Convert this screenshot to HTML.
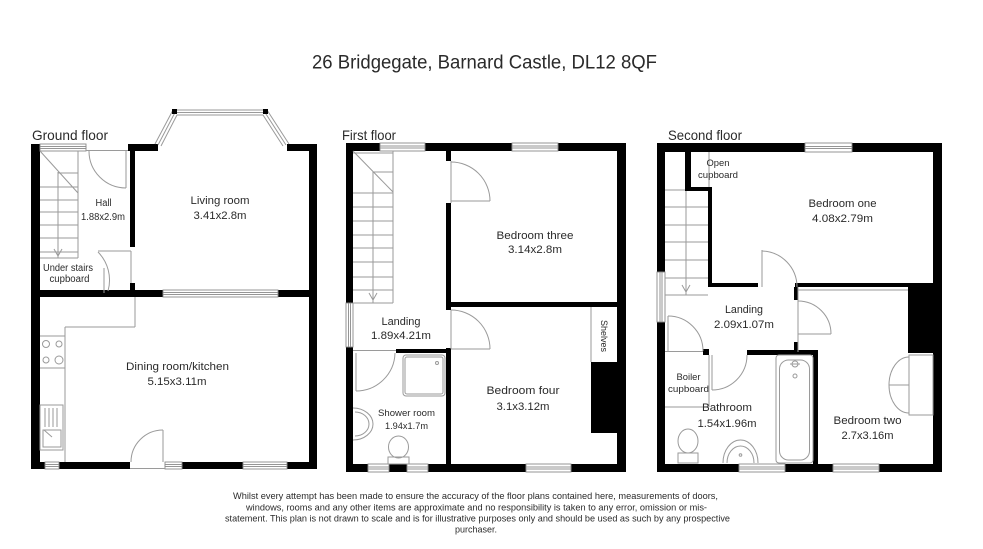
<!DOCTYPE html>
<html><head><meta charset="utf-8"><style>
html,body{margin:0;padding:0;background:#fff;}
svg{display:block;}
text{font-family:"Liberation Sans",sans-serif;fill:#2a2a2a;}
.t{stroke:#9a9a9a;stroke-width:1;fill:none;}
.w{fill:#fff;stroke:#8a8a8a;stroke-width:0.9;}
</style></head><body>
<svg width="983" height="549" viewBox="0 0 983 549" xmlns="http://www.w3.org/2000/svg">
<rect width="983" height="549" fill="#fff"/>

<!-- Title -->
<text x="312" y="68.5" font-size="19" textLength="345" lengthAdjust="spacingAndGlyphs" fill="#222">26 Bridgegate, Barnard Castle, DL12 8QF</text>

<!-- Floor labels -->
<text x="32" y="140" font-size="14" textLength="76" lengthAdjust="spacingAndGlyphs" fill="#222">Ground floor</text>
<text x="342" y="140" font-size="14" textLength="54" lengthAdjust="spacingAndGlyphs" fill="#222">First floor</text>
<text x="668" y="140" font-size="14" textLength="74" lengthAdjust="spacingAndGlyphs" fill="#222">Second floor</text>

<!-- ================= GROUND FLOOR ================= -->
<g fill="#000">
  <rect x="31" y="144" width="9" height="325"/>
  <rect x="309" y="144" width="8" height="325"/>
  <rect x="128" y="144" width="30" height="7"/>
  <rect x="287" y="144" width="30" height="7"/>
  <rect x="130" y="151" width="5" height="96"/>
  <rect x="130" y="283" width="5" height="14"/>
  <rect x="31" y="290" width="132" height="7"/>
  <rect x="278" y="290" width="39" height="7"/>
  <rect x="31" y="462" width="14" height="7"/>
  <rect x="59" y="462" width="71" height="7"/>
  <rect x="182" y="462" width="61" height="7"/>
  <rect x="287" y="462" width="30" height="7"/>
</g>
<!-- windows -->
<rect class="w" x="40" y="144" width="46" height="7"/><rect class="w" x="40" y="146.5" width="46" height="2"/>
<rect class="w" x="163" y="290" width="115" height="7"/><rect class="w" x="163" y="292.5" width="115" height="2"/>
<rect class="w" x="45" y="462" width="14" height="7"/><rect class="w" x="45" y="464.5" width="14" height="2"/>
<rect class="w" x="165" y="462" width="17" height="7"/><rect class="w" x="165" y="464.5" width="17" height="2"/>
<rect class="w" x="243" y="462" width="44" height="7"/><rect class="w" x="243" y="464.5" width="44" height="2"/>
<line class="t" x1="86" y1="150.5" x2="128" y2="150.5"/>
<line class="t" x1="130" y1="468.5" x2="165" y2="468.5"/>
<!-- bay window -->
<polyline class="t" points="155,144 173,110 267,110 289,144"/>
<polyline class="t" points="161,146 177,115 263,115 283,146"/>
<polyline class="t" points="158,145 175,112.5 265,112.5 286,145"/>
<rect x="172" y="109" width="5" height="5" fill="#000"/>
<rect x="263" y="109" width="5" height="5" fill="#000"/>
<!-- stairs -->
<g class="t">
  <line x1="78" y1="151" x2="78" y2="258"/>
  <line x1="40" y1="258" x2="78" y2="258"/>
  <line x1="40" y1="151" x2="78" y2="193"/>
  <line x1="58" y1="172" x2="58" y2="258"/>
  <line x1="58" y1="173" x2="78" y2="173"/>
  <line x1="40" y1="187" x2="78" y2="187"/>
  <line x1="40" y1="200" x2="78" y2="200"/>
  <line x1="40" y1="212" x2="78" y2="212"/>
  <line x1="40" y1="225" x2="78" y2="225"/>
  <line x1="40" y1="238" x2="78" y2="238"/>
  <line x1="40" y1="252" x2="78" y2="252"/>
  <polyline points="54,249 58,256 62,249"/>
  <!-- hall door -->
  <line x1="126" y1="151" x2="126" y2="188"/>
  <path d="M89,151 A37 37 0 0 0 126,188"/>
  <!-- under stairs door -->
  <line x1="98" y1="251" x2="131" y2="251"/>
  <line x1="131" y1="251" x2="131" y2="283"/>
  <path d="M98,252 A40 40 0 0 1 108,291"/>
  <line x1="104" y1="268" x2="104" y2="293"/>
  <!-- kitchen -->
  <line x1="135" y1="297" x2="135" y2="327"/>
  <line x1="65" y1="327" x2="135" y2="327"/>
  <line x1="65" y1="327" x2="65" y2="462"/>
  <line x1="40" y1="336" x2="65" y2="336"/>
  <line x1="40" y1="368" x2="65" y2="368"/>
  <circle cx="46" cy="344" r="3.5"/>
  <circle cx="59" cy="344" r="3"/>
  <circle cx="46" cy="360" r="3"/>
  <circle cx="59" cy="360" r="4"/>
  <rect x="40" y="405" width="23" height="45"/>
  <line x1="45" y1="408" x2="45" y2="427"/>
  <line x1="49" y1="408" x2="49" y2="427"/>
  <line x1="53" y1="408" x2="53" y2="427"/>
  <line x1="57" y1="408" x2="57" y2="427"/>
  <rect x="43" y="430" width="18" height="17"/>
  <line x1="44" y1="430" x2="52" y2="437"/>
  <!-- kitchen door -->
  <line x1="163" y1="430" x2="163" y2="462"/>
  <path d="M163,430 A32 32 0 0 0 131,462"/>
</g>
<!-- ground labels -->
<text x="103.5" y="206" font-size="10" text-anchor="middle" textLength="16" lengthAdjust="spacingAndGlyphs">Hall</text>
<text x="103" y="220" font-size="10" text-anchor="middle" textLength="44" lengthAdjust="spacingAndGlyphs">1.88x2.9m</text>
<text x="68" y="271" font-size="10" text-anchor="middle" textLength="50" lengthAdjust="spacingAndGlyphs">Under stairs</text>
<text x="69.5" y="282" font-size="10" text-anchor="middle" textLength="40" lengthAdjust="spacingAndGlyphs">cupboard</text>
<text x="220" y="204" font-size="11" text-anchor="middle" textLength="59" lengthAdjust="spacingAndGlyphs">Living room</text>
<text x="220" y="219" font-size="11" text-anchor="middle" textLength="53" lengthAdjust="spacingAndGlyphs">3.41x2.8m</text>
<text x="177.5" y="370" font-size="11" text-anchor="middle" textLength="103" lengthAdjust="spacingAndGlyphs">Dining room/kitchen</text>
<text x="177" y="385" font-size="11" text-anchor="middle" textLength="59" lengthAdjust="spacingAndGlyphs">5.15x3.11m</text>

<!-- ================= FIRST FLOOR ================= -->
<g fill="#000">
  <rect x="346" y="143" width="7" height="160"/>
  <rect x="346" y="347" width="7" height="125"/>
  <rect x="346" y="143" width="34" height="8"/>
  <rect x="425" y="143" width="87" height="8"/>
  <rect x="558" y="143" width="68" height="8"/>
  <rect x="617" y="143" width="9" height="329"/>
  <rect x="446" y="151" width="5" height="10"/>
  <rect x="446" y="203" width="5" height="104"/>
  <rect x="446" y="302" width="171" height="5"/>
  <rect x="446" y="307" width="5" height="3"/>
  <rect x="446" y="348" width="5" height="124"/>
  <rect x="396" y="349" width="55" height="4"/>
  <rect x="591" y="362" width="26" height="71"/>
  <rect x="346" y="464" width="22" height="8"/>
  <rect x="389" y="464" width="18" height="8"/>
  <rect x="428" y="464" width="98" height="8"/>
  <rect x="571" y="464" width="55" height="8"/>
</g>
<rect class="w" x="380" y="143" width="45" height="8"/><rect class="w" x="380" y="146" width="45" height="2"/>
<rect class="w" x="512" y="143" width="46" height="8"/><rect class="w" x="512" y="146" width="46" height="2"/>
<rect class="w" x="346" y="303" width="7" height="44"/><rect class="w" x="348.5" y="303" width="2" height="44"/>
<rect class="w" x="368" y="464" width="21" height="8"/><rect class="w" x="368" y="467" width="21" height="2"/>
<rect class="w" x="407" y="464" width="21" height="8"/><rect class="w" x="407" y="467" width="21" height="2"/>
<rect class="w" x="526" y="464" width="45" height="8"/><rect class="w" x="526" y="467" width="45" height="2"/>
<g class="t">
  <!-- stairs -->
  <line x1="393" y1="151" x2="393" y2="303"/>
  <line x1="353" y1="303" x2="393" y2="303"/>
  <line x1="353" y1="151" x2="393" y2="192"/>
  <line x1="373" y1="172" x2="373" y2="303"/>
  <line x1="353" y1="153" x2="393" y2="153"/>
  <line x1="373" y1="172" x2="393" y2="172"/>
  <line x1="353" y1="193" x2="393" y2="193"/>
  <line x1="353" y1="207" x2="393" y2="207"/>
  <line x1="353" y1="221" x2="393" y2="221"/>
  <line x1="353" y1="235" x2="393" y2="235"/>
  <line x1="353" y1="248" x2="393" y2="248"/>
  <line x1="353" y1="262" x2="393" y2="262"/>
  <line x1="353" y1="277" x2="393" y2="277"/>
  <line x1="353" y1="290" x2="393" y2="290"/>
  <polyline points="369,293 373,300 377,293"/>
  <!-- bedroom three door -->
  <line x1="451" y1="161" x2="451" y2="203"/>
  <line x1="451" y1="201" x2="490" y2="201"/>
  <path d="M451,162 A39 39 0 0 1 490,201"/>
  <!-- bedroom four door -->
  <line x1="451" y1="310" x2="451" y2="349"/>
  <line x1="451" y1="349" x2="490" y2="349"/>
  <path d="M451,310 A39 39 0 0 1 490,349"/>
  <!-- shower door -->
  <line x1="353" y1="350.5" x2="396" y2="350.5"/>
  <line x1="356" y1="353" x2="356" y2="391"/>
  <path d="M395,353 A39 39 0 0 1 356,391"/>
  <!-- shower tray -->
  <rect x="403" y="355" width="42" height="41" rx="3"/>
  <rect x="405" y="357" width="38" height="37" rx="2"/>
  <circle cx="437" cy="363" r="1.5"/>
  <!-- sink -->
  <path d="M353,408 A20 16 0 0 1 353,440"/>
  <path d="M355,412 A14 12 0 0 1 355,436"/>
  <!-- toilet -->
  <ellipse cx="398.5" cy="447" rx="10" ry="11"/>
  <rect x="388" y="457" width="21" height="7"/>
  <!-- shelves -->
  <line x1="591" y1="307" x2="591" y2="362"/>
</g>
<text x="401" y="325" font-size="11" text-anchor="middle" textLength="39" lengthAdjust="spacingAndGlyphs">Landing</text>
<text x="401" y="339" font-size="11" text-anchor="middle" textLength="60" lengthAdjust="spacingAndGlyphs">1.89x4.21m</text>
<text x="535" y="239" font-size="11" text-anchor="middle" textLength="77" lengthAdjust="spacingAndGlyphs">Bedroom three</text>
<text x="535" y="253" font-size="11" text-anchor="middle" textLength="54" lengthAdjust="spacingAndGlyphs">3.14x2.8m</text>
<text x="523" y="394" font-size="11" text-anchor="middle" textLength="73" lengthAdjust="spacingAndGlyphs">Bedroom four</text>
<text x="523" y="410" font-size="11" text-anchor="middle" textLength="53" lengthAdjust="spacingAndGlyphs">3.1x3.12m</text>
<text x="406.5" y="416" font-size="9.5" text-anchor="middle" textLength="57" lengthAdjust="spacingAndGlyphs">Shower room</text>
<text x="406.5" y="429" font-size="9.5" text-anchor="middle" textLength="43" lengthAdjust="spacingAndGlyphs">1.94x1.7m</text>
<text x="0" y="0" font-size="9.5" text-anchor="middle" textLength="32" lengthAdjust="spacingAndGlyphs" transform="translate(601,336) rotate(90)">Shelves</text>

<!-- ================= SECOND FLOOR ================= -->
<g fill="#000">
  <rect x="657" y="143" width="8" height="129"/>
  <rect x="657" y="322" width="8" height="150"/>
  <rect x="657" y="143" width="148" height="9"/>
  <rect x="852" y="143" width="90" height="9"/>
  <rect x="933" y="143" width="9" height="329"/>
  <rect x="685" y="152" width="6" height="39"/>
  <rect x="685" y="187" width="27" height="4"/>
  <rect x="708" y="187" width="4" height="100"/>
  <rect x="708" y="283" width="50" height="4"/>
  <rect x="795" y="283" width="138" height="4"/>
  <rect x="794" y="287" width="4" height="13"/>
  <rect x="794" y="342" width="4" height="10"/>
  <rect x="908" y="287" width="25" height="66"/>
  <rect x="747" y="350" width="71" height="5"/>
  <rect x="703" y="349" width="6" height="6"/>
  <rect x="813" y="350" width="5" height="122"/>
  <rect x="657" y="464" width="82" height="8"/>
  <rect x="785" y="464" width="48" height="8"/>
  <rect x="879" y="464" width="63" height="8"/>
</g>
<rect class="w" x="805" y="143" width="47" height="9"/><rect class="w" x="805" y="146.5" width="47" height="2"/>
<rect class="w" x="657" y="272" width="8" height="50"/><rect class="w" x="660" y="272" width="2" height="50"/>
<rect class="w" x="739" y="464" width="46" height="8"/><rect class="w" x="739" y="467" width="46" height="2"/>
<rect class="w" x="833" y="464" width="46" height="8"/><rect class="w" x="833" y="467" width="46" height="2"/>
<g class="t">
  <!-- stairs -->
  <line x1="665" y1="190" x2="685" y2="190"/>
  <line x1="686" y1="191" x2="686" y2="295"/>
  <line x1="665" y1="207" x2="708" y2="207"/>
  <line x1="665" y1="225" x2="708" y2="225"/>
  <line x1="665" y1="242" x2="708" y2="242"/>
  <line x1="665" y1="260" x2="708" y2="260"/>
  <line x1="665" y1="278" x2="708" y2="278"/>
  <line x1="665" y1="295" x2="708" y2="295"/>
  <line x1="709" y1="152" x2="709" y2="187"/>
  <polyline points="682,285 686,292 690,285"/>
  <!-- bedroom one door -->
  <line x1="762" y1="250" x2="762" y2="287"/>
  <path d="M762,251 A36 36 0 0 1 797,287"/>
  <!-- bedroom two door -->
  <line x1="798" y1="287" x2="798" y2="352"/>
  <line x1="798" y1="290" x2="908" y2="290"/>
  <line x1="798" y1="334" x2="831" y2="334"/>
  <path d="M798,301 A33 33 0 0 1 831,334"/>
  <!-- landing door -->
  <line x1="668" y1="316" x2="668" y2="351"/>
  <line x1="665" y1="351.5" x2="703" y2="351.5"/>
  <path d="M668,316 A35 35 0 0 1 703,351"/>
  <!-- bathroom door -->
  <line x1="712" y1="355" x2="712" y2="390"/>
  <path d="M747,355 A35 35 0 0 1 712,390"/>
  <!-- boiler cupboard -->
  <line x1="709" y1="355" x2="709" y2="407"/>
  <line x1="665" y1="407" x2="709" y2="407"/>
  <!-- bath -->
  <rect x="776" y="355" width="37" height="108" rx="3"/>
  <rect x="779.5" y="360" width="30" height="100" rx="9"/>
  <circle cx="795" cy="364" r="3"/>
  <line x1="790" y1="364" x2="800" y2="364"/>
  <circle cx="795" cy="376" r="2"/>
  <!-- sink -->
  <path d="M723,463 A17.5 23 0 0 1 758,463"/>
  <path d="M727,463 A13.5 17 0 0 1 754,463"/>
  <circle cx="740.5" cy="455" r="1.3"/>
  <!-- toilet -->
  <ellipse cx="688" cy="441" rx="10" ry="12"/>
  <rect x="678" y="453" width="20" height="10"/>
  <!-- wardrobe -->
  <rect x="909" y="355" width="24" height="60"/>
  <line x1="909" y1="357" x2="909" y2="413"/>
  <path d="M909,357 A20 28 0 0 0 889,385 L909,385"/>
  <path d="M909,413 A20 28 0 0 1 889,385"/>
</g>
<text x="718" y="166" font-size="9.5" text-anchor="middle" textLength="23" lengthAdjust="spacingAndGlyphs">Open</text>
<text x="718" y="178" font-size="9.5" text-anchor="middle" textLength="40" lengthAdjust="spacingAndGlyphs">cupboard</text>
<text x="842.5" y="207" font-size="11" text-anchor="middle" textLength="68" lengthAdjust="spacingAndGlyphs">Bedroom one</text>
<text x="842.5" y="222" font-size="11" text-anchor="middle" textLength="61" lengthAdjust="spacingAndGlyphs">4.08x2.79m</text>
<text x="744" y="313" font-size="11" text-anchor="middle" textLength="38" lengthAdjust="spacingAndGlyphs">Landing</text>
<text x="744" y="328" font-size="11" text-anchor="middle" textLength="60" lengthAdjust="spacingAndGlyphs">2.09x1.07m</text>
<text x="688.5" y="380" font-size="9.5" text-anchor="middle" textLength="24" lengthAdjust="spacingAndGlyphs">Boiler</text>
<text x="688.5" y="392" font-size="9.5" text-anchor="middle" textLength="41" lengthAdjust="spacingAndGlyphs">cupboard</text>
<text x="727" y="411" font-size="11" text-anchor="middle" textLength="50" lengthAdjust="spacingAndGlyphs">Bathroom</text>
<text x="727" y="427" font-size="11" text-anchor="middle" textLength="59" lengthAdjust="spacingAndGlyphs">1.54x1.96m</text>
<text x="867.5" y="424" font-size="11" text-anchor="middle" textLength="68" lengthAdjust="spacingAndGlyphs">Bedroom two</text>
<text x="867.5" y="439" font-size="11" text-anchor="middle" textLength="52" lengthAdjust="spacingAndGlyphs">2.7x3.16m</text>

<!-- Disclaimer -->
<text x="475.5" y="499" font-size="9.5" text-anchor="middle" textLength="485" lengthAdjust="spacingAndGlyphs" fill="#222">Whilst every attempt has been made to ensure the accuracy of the floor plans contained here, measurements of doors,</text>
<text x="476.5" y="510.5" font-size="9.5" text-anchor="middle" textLength="461" lengthAdjust="spacingAndGlyphs" fill="#222">windows, rooms and any other items are approximate and no responsibility is taken to any error, omission or mis-</text>
<text x="477.5" y="521.5" font-size="9.5" text-anchor="middle" textLength="505" lengthAdjust="spacingAndGlyphs" fill="#222">statement. This plan is not drawn to scale and is for illustrative purposes only and should be used as such by any prospective</text>
<text x="476" y="532.5" font-size="9.5" text-anchor="middle" textLength="42" lengthAdjust="spacingAndGlyphs" fill="#222">purchaser.</text>
</svg>
</body></html>
